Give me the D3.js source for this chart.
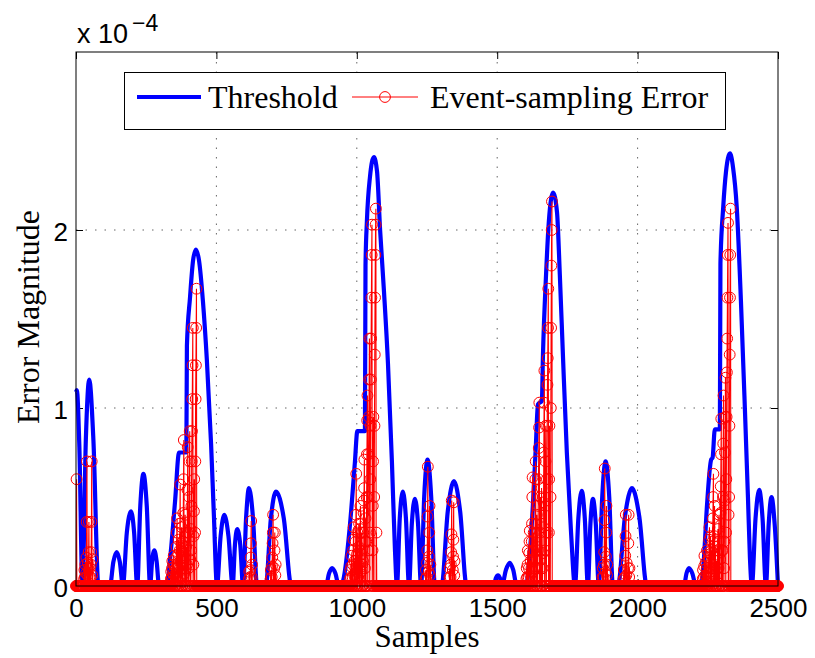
<!DOCTYPE html>
<html>
<head>
<meta charset="utf-8">
<script src="https://cdn.jsdelivr.net/npm/d3@7"></script>
<style>
  body { margin: 0; background: #fff; }
</style>
</head>
<body>
<svg id="chart" width="815" height="658"></svg>
<script>
// values are in units of 1e-4 (the axis multiplier)
const xTicks = [0, 500, 1000, 1500, 2000, 2500];
const yTicks = [0, 1, 2];
const sampleCount = 2501;

// threshold curve as [sample, value]
const thresholdPoints = [
  [0, 1.09], [3, 1.1], [12, 0.78], [23, 0],
  [35, 0.82], [47, 1.16], [62, 0.82], [80, 0],
  [121, 0], [133, 0.135], [145, 0.19], [156, 0.135], [167, 0],
  [181, 0.3], [196, 0.42], [207, 0.3], [218, 0],
  [229, 0.45], [240, 0.63], [252, 0.45], [264, 0],
  [271, 0.14], [279, 0.2], [287, 0.14], [296, 0],
  [324, 0], [335, 0.15], [353, 0.48], [367, 0.75], [393, 0.75], [395, 1.35], [406, 1.62], [417, 1.83],
  [427, 1.89], [438, 1.83], [452, 1.6], [466, 1.27], [481, 0.8], [491, 0.4], [502, 0],
  [515, 0.28], [528, 0.4], [543, 0.28], [558, 0],
  [566, 0.23], [574, 0.32], [585, 0.23], [595, 0],
  [606, 0.39], [616, 0.55], [630, 0.39], [645, 0],
  [676, 0], [694, 0.38], [712, 0.53], [740, 0.38], [767, 0],
  [890, 0], [901, 0.07], [912, 0.1], [924, 0.07], [936, 0],
  [944, 0], [954, 0.05], [976, 0.35], [993, 0.69], [1002, 0.87], [1029, 0.87], [1031, 1.8], [1036, 2.05],
  [1047, 2.3], [1061, 2.41], [1072, 2.33], [1083, 2.0], [1097, 1.65], [1111, 1.25], [1125, 0.7], [1136, 0.2], [1143, 0],
  [1153, 0.38], [1164, 0.53], [1175, 0.38], [1186, 0],
  [1196, 0.35], [1207, 0.49], [1218, 0.35], [1229, 0],
  [1240, 0.5], [1252, 0.71], [1265, 0.5], [1278, 0],
  [1302, 0], [1324, 0.42], [1346, 0.59], [1368, 0.42], [1391, 0],
  [1488, 0], [1495, 0.043], [1503, 0.06], [1510, 0.043], [1517, 0],
  [1531, 0.09], [1545, 0.13], [1557, 0.09], [1570, 0],
  [1602, 0], [1617, 0.2], [1627, 0.45], [1638, 0.8], [1645, 1.02], [1659, 1.04], [1663, 1.3], [1674, 1.75],
  [1684, 2.05], [1699, 2.21], [1713, 2.1], [1723, 1.75], [1734, 1.3], [1748, 0.75], [1763, 0.3], [1777, 0],
  [1789, 0.38], [1801, 0.535], [1812, 0.38], [1823, 0],
  [1832, 0.35], [1841, 0.49], [1851, 0.35], [1862, 0],
  [1874, 0.5], [1886, 0.7], [1899, 0.5], [1912, 0],
  [1930, 0], [1955, 0.39], [1980, 0.55], [2006, 0.39], [2033, 0],
  [2165, 0], [2174, 0.07], [2183, 0.1], [2195, 0.07], [2208, 0],
  [2226, 0], [2236, 0.15], [2247, 0.45], [2262, 0.71], [2267, 0.72], [2275, 0.88], [2293, 0.88], [2295, 1.81],
  [2305, 2.13], [2315, 2.33], [2329, 2.43], [2340, 2.35], [2353, 2.13], [2368, 1.6], [2382, 1.0], [2393, 0.5],
  [2400, 0.16], [2407, 0],
  [2420, 0.38], [2433, 0.54], [2445, 0.38], [2457, 0],
  [2467, 0.35], [2477, 0.5], [2488, 0.35], [2500, 0]
];

// event-sampling error: non-zero runs [first sample, values...]; zero everywhere else
const errorRuns = [
  [2, [0.6]],
  [29, [0.04, 0.09]], [32, [0.05, 0.12]], [36, [0.07, 0.16, 0.36, 0.7]], [41, [0.06, 0.13]],
  [44, [0.1, 0.19, 0.36]], [48, [0.05, 0.1]], [52, [0.05, 0.12, 0.19, 0.36, 0.7]], [58, [0.06, 0.15]],

  [338, [0.04, 0.08]], [341, [0.05, 0.1, 0.14]], [345, [0.03, 0.07, 0.12, 0.17]], [350, [0.06, 0.11]],
  [355, [0.05, 0.1, 0.16, 0.22, 0.3, 0.38]], [362, [0.04, 0.1, 0.18, 0.26]], [368, [0.08, 0.2, 0.35, 0.57]],
  [373, [0.06, 0.14, 0.24, 0.33]], [380, [0.1, 0.25, 0.41, 0.6, 0.82]], [386, [0.07, 0.16, 0.28, 0.4]],
  [391, [0.1, 0.22]], [395, [0.12, 0.3, 0.54, 0.78]], [401, [0.1, 0.3, 0.5, 0.7, 0.87]], [407, [0.15, 0.32]],
  [410, [0.2, 0.45, 0.7, 0.87, 1.05, 1.24, 1.45]], [418, [0.12, 0.28, 0.42, 0.6]],
  [424, [0.3, 0.7, 1.05, 1.24, 1.45, 1.67]],

  [616, [0.04, 0.08]], [620, [0.05, 0.09, 0.16, 0.24, 0.365]], [626, [0.05, 0.12]],
  [693, [0.04, 0.09]], [697, [0.05, 0.11, 0.16, 0.24, 0.3, 0.4]], [706, [0.1, 0.2, 0.3]], [710, [0.06, 0.12]],

  [976, [0.04, 0.09]], [979, [0.05, 0.11, 0.17]], [985, [0.05, 0.12, 0.2, 0.26, 0.33]], [991, [0.06, 0.14]],
  [995, [0.1, 0.25, 0.4, 0.63]], [1000, [0.08, 0.18, 0.3]], [1005, [0.05, 0.12, 0.22, 0.35]],
  [1010, [0.1, 0.2, 0.32, 0.45]], [1015, [0.08, 0.18, 0.3]], [1019, [0.12]],
  [1022, [0.14, 0.3, 0.41, 0.48, 0.55, 0.71]], [1029, [0.1, 0.25, 0.38]],
  [1034, [0.25, 0.5, 0.74, 0.93, 1.07]], [1040, [0.2, 0.5, 0.74, 0.95, 1.16, 1.39]],
  [1047, [0.3, 0.6, 0.9, 1.16, 1.39, 1.62, 1.86, 2.03]], [1056, [0.2, 0.45, 0.7, 0.95]],
  [1062, [0.5, 0.9, 1.3, 1.62, 1.86, 2.03, 2.12]], [1070, [0.3]],

  [1245, [0.04, 0.09]], [1249, [0.05, 0.13, 0.2, 0.39, 0.67]], [1256, [0.08, 0.165, 0.3, 0.45]], [1261, [0.06, 0.12]],
  [1330, [0.05, 0.1]], [1334, [0.05, 0.12, 0.19, 0.29, 0.48]], [1342, [0.09, 0.165, 0.26, 0.47]], [1347, [0.06, 0.14]],

  [1604, [0.04, 0.1]], [1607, [0.05, 0.12, 0.2]], [1612, [0.05, 0.1, 0.185, 0.25, 0.31]], [1618, [0.06, 0.14]],
  [1622, [0.1, 0.25, 0.35, 0.5, 0.61]], [1628, [0.08, 0.2, 0.3]], [1634, [0.15, 0.35, 0.6, 0.7]],
  [1639, [0.1, 0.22, 0.4]], [1645, [0.2, 0.45, 0.6, 0.775, 0.89, 1.03]], [1652, [0.1, 0.3, 0.5]],
  [1656, [0.15, 0.35, 0.55]], [1662, [0.1, 0.185, 0.33, 0.47, 0.75, 1.03, 1.21]],
  [1670, [0.2, 0.45, 0.7, 0.9]], [1676, [0.3, 0.6, 0.9, 1.13, 1.28, 1.45, 1.67]],
  [1684, [0.3, 0.6, 0.9]], [1690, [0.5, 1.0, 1.45, 1.8, 2.0, 2.16]],

  [1875, [0.05, 0.1]], [1879, [0.05, 0.12, 0.19, 0.37, 0.66]], [1886, [0.08, 0.165, 0.3, 0.45]], [1891, [0.06, 0.12]],
  [1950, [0.04, 0.09]], [1955, [0.05, 0.17, 0.28, 0.4]], [1960, [0.06, 0.13]], [1966, [0.1, 0.24, 0.4]], [1970, [0.05, 0.1]],

  [2232, [0.04, 0.09]], [2236, [0.05, 0.11, 0.17]], [2241, [0.06, 0.13]], [2245, [0.05, 0.1, 0.2]],
  [2252, [0.05, 0.16, 0.19, 0.26, 0.33]], [2258, [0.08, 0.18, 0.28]], [2262, [0.1, 0.2]],
  [2266, [0.1, 0.25, 0.38, 0.5, 0.63]], [2272, [0.12, 0.28, 0.45]], [2276, [0.1, 0.22]], [2280, [0.06, 0.14]],
  [2284, [0.1, 0.2, 0.32]], [2288, [0.1, 0.25, 0.4]], [2294, [0.15, 0.41, 0.56, 0.74, 0.94]], [2300, [0.2]],
  [2303, [0.2, 0.5, 0.8, 1.07]], [2308, [0.1, 0.25, 0.48, 0.75, 0.95, 1.17]],
  [2315, [0.3, 0.6, 0.95, 1.2, 1.39, 1.62, 1.86, 2.04]], [2324, [0.4]],
  [2326, [0.5, 0.9, 1.3, 1.62, 1.86, 2.12]]
];

const legendLabels = ['Threshold', 'Event-sampling Error'];

// full error series, one value per sample
const errors = new Array(sampleCount).fill(0);
errorRuns.forEach(([start, vals]) => vals.forEach((v, i) => { errors[start + i] = v; }));

const box = { left: 76, right: 778, top: 52, bottom: 586 };
const svg = d3.select('#chart');

const x = d3.scaleLinear().domain([0, 2500]).range([box.left, box.right]);
const y = d3.scaleLinear().domain([0, 3]).range([box.bottom, box.top]);

// grid
const grid = svg.append('g').attr('stroke', '#666').attr('stroke-width', 1).attr('stroke-dasharray', '1.5,8');
grid.selectAll('.gx').data(xTicks.slice(1, -1)).enter().append('line')
  .attr('x1', d => x(d)).attr('x2', d => x(d)).attr('y1', box.bottom).attr('y2', box.top);
grid.selectAll('.gy').data(yTicks.slice(1)).enter().append('line')
  .attr('x1', box.left).attr('x2', box.right).attr('y1', d => y(d)).attr('y2', d => y(d));

// axes: ticks inside, on all four sides
const sans = 'Liberation Sans, Arial, Helvetica, sans-serif';
const serif = 'Liberation Serif, Times New Roman, serif';

const xAxis = svg.append('g').attr('transform', `translate(0,${box.bottom})`)
  .call(d3.axisBottom(x).tickValues(xTicks).tickSize(-7).tickPadding(12.5).tickFormat(d3.format('d')));
const xAxisTop = svg.append('g').attr('transform', `translate(0,${box.top})`)
  .call(d3.axisTop(x).tickValues(xTicks).tickSize(-7).tickFormat(''));
const yAxis = svg.append('g').attr('transform', `translate(${box.left},0)`)
  .call(d3.axisLeft(y).tickValues(yTicks).tickSize(-7).tickPadding(8).tickFormat(d3.format('d')));
const yAxisRight = svg.append('g').attr('transform', `translate(${box.right},0)`)
  .call(d3.axisRight(y).tickValues(yTicks).tickSize(-7).tickFormat(''));

[xAxis, xAxisTop, yAxis, yAxisRight].forEach(g => {
  g.select('.domain').remove();
  g.selectAll('line').attr('stroke', '#000');
  g.selectAll('text').attr('font-family', sans).attr('font-size', 26).attr('fill', '#000');
});
yAxis.selectAll('text').attr('dy', '0.4em');

// multiplier
const mult = svg.append('text').attr('x', 77).attr('y', 43)
  .attr('font-family', sans).attr('font-size', 27).attr('fill', '#000');
mult.append('tspan').text('x 10');
mult.append('tspan').attr('dy', -12).attr('dx', 4).attr('font-size', 23).text('\u22124');

// axis labels
svg.append('text').attr('x', (box.left + box.right) / 2).attr('y', 647)
  .attr('text-anchor', 'middle').attr('font-family', serif).attr('font-size', 31).text('Samples');
svg.append('text').attr('transform', `translate(39,${(box.top + box.bottom) / 2 - 2}) rotate(-90)`)
  .attr('text-anchor', 'middle').attr('font-family', serif).attr('font-size', 32).text('Error Magnitude');

// threshold
const line = d3.line().x(d => x(d[0])).y(d => y(d[1])).curve(d3.curveMonotoneX);
svg.append('path').datum(thresholdPoints)
  .attr('fill', 'none').attr('stroke', '#0000ff').attr('stroke-width', 4.2)
  .attr('stroke-linejoin', 'round').attr('d', line);

// event-sampling error
const errLine = d3.line().x((d, i) => x(i)).y(d => y(d));
svg.append('path').datum(errors)
  .attr('fill', 'none').attr('stroke', '#ff0000').attr('stroke-width', 1.1).attr('d', errLine);
svg.append('g').selectAll('circle').data(errors).enter().append('circle')
  .attr('cx', (d, i) => x(i)).attr('cy', d => y(d)).attr('r', 5.4)
  .attr('fill', 'none').attr('stroke', '#ff0000').attr('stroke-width', 1);

// axes box on top
svg.append('rect').attr('x', box.left).attr('y', box.top)
  .attr('width', box.right - box.left).attr('height', box.bottom - box.top)
  .attr('fill', 'none').attr('stroke', '#000').attr('stroke-width', 1);

// legend
const lg = svg.append('g');
lg.append('rect').attr('x', 124.5).attr('y', 72.5).attr('width', 601).attr('height', 57)
  .attr('fill', '#fff').attr('stroke', '#000').attr('stroke-width', 1);
lg.append('line').attr('x1', 137).attr('x2', 201).attr('y1', 97).attr('y2', 97)
  .attr('stroke', '#0000ff').attr('stroke-width', 4.2);
lg.append('text').attr('x', 208).attr('y', 108).attr('font-family', serif).attr('font-size', 32).text(legendLabels[0]);
lg.append('line').attr('x1', 352).attr('x2', 418).attr('y1', 97).attr('y2', 97)
  .attr('stroke', '#ff0000').attr('stroke-width', 1);
lg.append('circle').attr('cx', 385).attr('cy', 97).attr('r', 5.4)
  .attr('fill', 'none').attr('stroke', '#ff0000').attr('stroke-width', 1);
lg.append('text').attr('x', 430).attr('y', 108).attr('font-family', serif).attr('font-size', 32).text(legendLabels[1]);
</script>
</body>
</html>
